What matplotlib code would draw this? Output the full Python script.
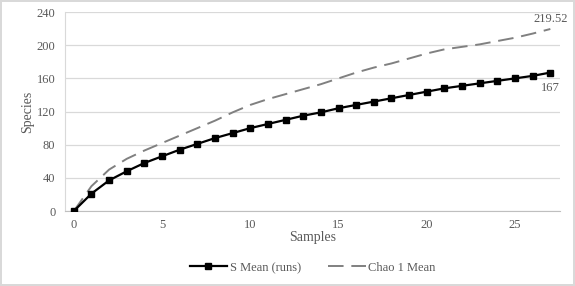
import matplotlib.pyplot as plt

# sample-based rarefaction data
samples = list(range(0, 28))
s_mean = [0, 21, 37, 48, 58, 66, 74, 81, 88, 94, 100, 105, 110, 115, 119, 124,
          128, 132, 136, 140, 144, 148, 151, 154, 157, 160, 163, 167]
chao1_mean = [0, 30, 50, 63, 73, 82, 91, 100, 109, 119, 128, 135, 141, 147, 153, 160,
              167, 173, 178, 184, 190, 195, 198, 201, 205, 209, 214, 219.52]
y_ticks = [0, 40, 80, 120, 160, 200, 240]
x_ticks = [0, 5, 10, 15, 20, 25]

plt.rcParams['font.family'] = ['Liberation Serif', 'DejaVu Serif']
txt = '#595959'

fig = plt.figure(figsize=(5.75, 2.86), dpi=100)
fig.patch.set_edgecolor('#d9d9d9')
fig.patch.set_linewidth(1.5)
ax = fig.add_axes([0.113, 0.262, 0.861, 0.696])

ax.plot(samples, s_mean, color='black', lw=1.6, marker='s', markersize=5,
        label='S Mean (runs)', zorder=3)
ax.plot(samples, chao1_mean, color='#808080', lw=1.4, dashes=(8, 4),
        label='Chao 1 Mean', zorder=2)

ax.annotate('%g' % chao1_mean[-1], (samples[-1], chao1_mean[-1]), xytext=(0, 3),
            textcoords='offset points', ha='center', va='bottom', fontsize=9, color=txt)
ax.annotate('%g' % s_mean[-1], (samples[-1], s_mean[-1]), xytext=(0, -7),
            textcoords='offset points', ha='center', va='top', fontsize=9, color=txt)

ax.set_xlim(-0.5, 27.55)
ax.set_ylim(0, 240)
ax.set_yticks(y_ticks)
ax.set_xticks(x_ticks)
ax.tick_params(length=0, labelsize=9, labelcolor=txt)
ax.tick_params(axis='y', pad=7)
ax.tick_params(axis='x', pad=6)
ax.grid(axis='y', color='#d9d9d9', lw=0.9)
ax.set_axisbelow(True)
for side in ['top', 'right']:
    ax.spines[side].set_visible(False)
ax.spines['left'].set_color('#d9d9d9')
ax.spines['bottom'].set_color('#bfbfbf')

ax.set_xlabel('Samples', fontsize=10, color=txt)
ax.set_ylabel('Species', fontsize=10, color=txt)
ax.xaxis.set_label_coords(0.5, -0.10)
ax.yaxis.set_label_coords(-0.062, 0.5)

ax.legend(loc='center', bbox_to_anchor=(0.5, -0.285), ncol=2, frameon=False,
          fontsize=9, labelcolor=txt, handlelength=3.0, columnspacing=2.2, handletextpad=0.2)

plt.savefig('out.png', dpi=100)
